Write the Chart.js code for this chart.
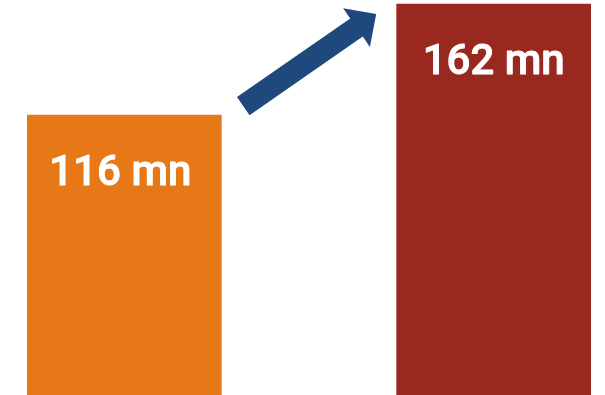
<!DOCTYPE html>
<html>
<head>
<meta charset="utf-8">
<script src="https://cdn.jsdelivr.net/npm/chart.js@4"></script>
<style>
  html, body { margin: 0; padding: 0; background: #fff; }
  #wrap { width: 605px; height: 395px; position: relative; }
</style>
</head>
<body>
<div id="wrap"><canvas id="chart"></canvas></div>
<script>
// categories (middle slot holds the arrow)
const categories = ['Before', '', 'After'];
const values = [116, null, 162];
const barColors = ['#E67817', 'rgba(0,0,0,0)', '#982820'];
const unit = 'mn';
// arrow from/to in data terms (category index, value)
const arrowFrom = [0.644, 119.7];
const arrowTo = [1.364, 157.9];

const barLabels = {
    id: 'barLabels',
    afterDatasetsDraw(chart) {
        const ctx = chart.ctx;
        const meta = chart.getDatasetMeta(0);
        ctx.save();
        ctx.fillStyle = '#ffffff';
        ctx.strokeStyle = '#ffffff';
        ctx.lineWidth = 0.9;
        ctx.lineJoin = 'round';
        ctx.font = "500 42px Roboto, 'Liberation Sans', Arial, sans-serif";
        ctx.textAlign = 'center';
        ctx.textBaseline = 'alphabetic';
        meta.data.forEach((bar, i) => {
            if (values[i] == null) return;
            const txt = `${values[i]} ${unit}`;
            const tx = bar.x - (i === 0 ? 4 : 0), ty = bar.y + 70;
            ctx.fillText(txt, tx, ty);
            ctx.strokeText(txt, tx, ty); // a touch heavier than medium
        });
        ctx.restore();
    }
};

const arrowPlugin = {
    id: 'arrow',
    afterDatasetsDraw(chart) {
        const { ctx, scales: { x, y } } = chart;
        const x0 = x.getPixelForValue(arrowFrom[0]), y0 = y.getPixelForValue(arrowFrom[1]);
        const x1 = x.getPixelForValue(arrowTo[0]), y1 = y.getPixelForValue(arrowTo[1]);
        const len = Math.hypot(x1 - x0, y1 - y0);
        const shaft = 22, head = 47, headLen = 24;
        ctx.save();
        ctx.translate(x0, y0);
        ctx.rotate(Math.atan2(y1 - y0, x1 - x0));
        ctx.beginPath();
        ctx.moveTo(0, -shaft / 2);
        ctx.lineTo(len - headLen, -shaft / 2);
        ctx.lineTo(len - headLen, -head / 2);
        ctx.lineTo(len, 0);
        ctx.lineTo(len - headLen, head / 2);
        ctx.lineTo(len - headLen, shaft / 2);
        ctx.lineTo(0, shaft / 2);
        ctx.closePath();
        ctx.fillStyle = '#1F497D';
        ctx.fill();
        ctx.restore();
    }
};

new Chart(document.getElementById('chart'), {
    type: 'bar',
    data: {
        labels: categories,
        datasets: [{
            data: values,
            backgroundColor: barColors,
            borderWidth: 0,
            barThickness: 194,
            clip: false
        }]
    },
    options: {
        responsive: true,
        maintainAspectRatio: false,
        animation: false,
        layout: { padding: { top: 4, bottom: 0, left: 32, right: 19 } },
        plugins: {
            legend: { display: false },
            tooltip: { enabled: false }
        },
        scales: {
            x: { display: false, grid: { display: false } },
            y: { display: false, min: 0, max: 162, grid: { display: false } }
        }
    },
    plugins: [barLabels, arrowPlugin]
});
</script>
</body>
</html>
